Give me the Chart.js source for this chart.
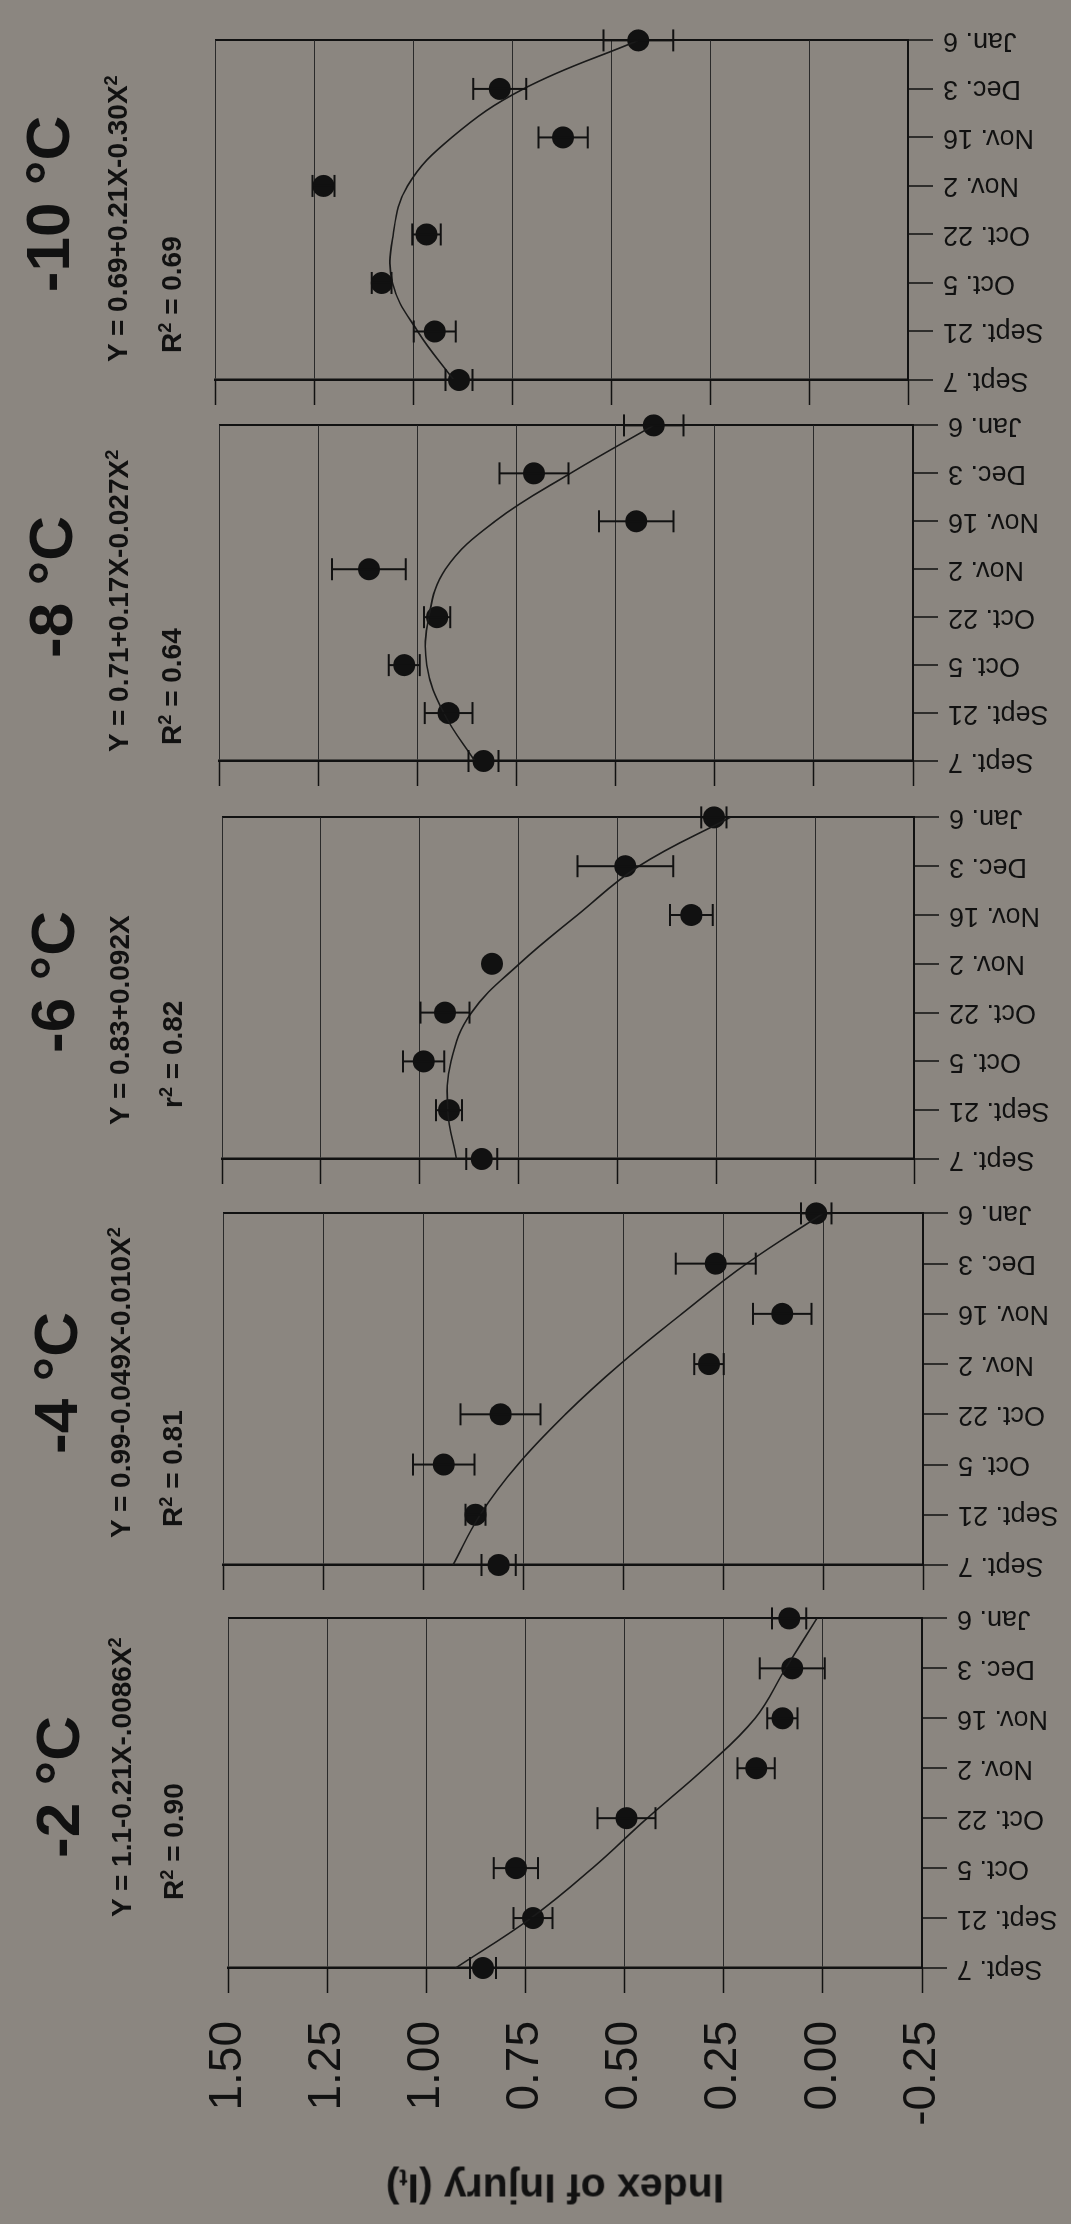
<!DOCTYPE html>
<html><head><meta charset="utf-8">
<script src="https://cdn.jsdelivr.net/npm/chart.js@4.4.0/dist/chart.umd.min.js"></script>
<style>
html,body{margin:0;padding:0;width:1071px;height:2224px;overflow:hidden;background:#8b8680;}
#stage{position:absolute;left:0;top:0;width:2224px;height:1071px;transform-origin:0 0;transform:translateY(2224px) rotate(-90deg);font-family:"Liberation Sans",Arial,sans-serif;color:#111;}
#stage canvas{position:absolute;top:0;}
.t{position:absolute;white-space:nowrap;line-height:1;}
.t sup{font-size:0.65em;line-height:0;vertical-align:0.55em;}
.t sub{font-size:0.6em;line-height:0;vertical-align:-0.2em;}
</style></head><body><div id="stage"></div>
<script>
// ---------- data ----------
const dates = ["Sept. 7","Sept. 21","Oct. 5","Oct. 22","Nov. 2","Nov. 16","Dec. 3","Jan. 6"];
const yTickValues = [-0.25, 0, 0.25, 0.5, 0.75, 1.0, 1.25, 1.5];
const yTickLabels = ["-0.25","0.00","0.25","0.50","0.75","1.00","1.25","1.50"];
const panelTitles = ["-2 °C","-4 °C","-6 °C","-8 °C","-10 °C"];
const equations = ["Y = 1.1-0.21X-.0086X<sup>2</sup>","Y = 0.99-0.049X-0.010X<sup>2</sup>","Y = 0.83+0.092X","Y = 0.71+0.17X-0.027X<sup>2</sup>","Y = 0.69+0.21X-0.30X<sup>2</sup>"];
const fitStats = ["R<sup>2</sup> = 0.90","R<sup>2</sup> = 0.81","r<sup>2</sup> = 0.82","R<sup>2</sup> = 0.64","R<sup>2</sup> = 0.69"];
const yAxisTitle = "Index of Injury (I<sub>t</sub>)";

const injuryM2  = [0.857, 0.731, 0.774, 0.495, 0.168, 0.102, 0.077, 0.085];
const errorM2   = [0.033, 0.049, 0.056, 0.073, 0.047, 0.038, 0.082, 0.043];
const fitM2     = [0.926, 0.736, 0.581, 0.443, 0.298, 0.171, 0.094, 0.015];

const injuryM4  = [0.811, 0.869, 0.948, 0.806, 0.285, 0.102, 0.268, 0.017];
const errorM4   = [0.043, 0.025, 0.077, 0.100, 0.037, 0.073, 0.100, 0.038];
const fitM4     = [0.925, 0.857, 0.763, 0.644, 0.507, 0.353, 0.191, 0.000];

const injuryM6  = [0.843, 0.926, 0.990, 0.936, 0.817, 0.313, 0.480, 0.256];
const errorM6   = [0.039, 0.033, 0.052, 0.062, 0.000, 0.054, 0.121, 0.032];
const fitM6     = [0.907, 0.929, 0.921, 0.869, 0.748, 0.601, 0.446, 0.215];

const injuryM8  = [0.833, 0.921, 1.033, 0.950, 1.122, 0.448, 0.706, 0.404];
const errorM8   = [0.038, 0.060, 0.039, 0.033, 0.093, 0.094, 0.087, 0.075];
const fitM8     = [0.855, 0.933, 0.976, 0.971, 0.929, 0.804, 0.614, 0.404];

const injuryM10 = [0.884, 0.945, 1.079, 0.966, 1.226, 0.621, 0.781, 0.431];
const errorM10  = [0.034, 0.053, 0.025, 0.036, 0.028, 0.062, 0.067, 0.088];
const fitM10    = [0.897, 0.988, 1.052, 1.050, 1.014, 0.902, 0.721, 0.431];

const seriesMeans = [injuryM2, injuryM4, injuryM6, injuryM8, injuryM10];
const seriesErrors = [errorM2, errorM4, errorM6, errorM8, errorM10];
const seriesFits = [fitM2, fitM4, fitM6, fitM8, fitM10];

// ---------- layout (unrotated figure coordinates, 2224 x 1071) ----------
const W = 2224, H = 1071;
const FONT = '"Liberation Sans", Arial, sans-serif';
const panelLeft   = [256, 659, 1065, 1463, 1844];
const panelRight  = [618, 1023, 1419, 1811, 2196];
const panelTop    = [228, 223, 222, 219, 215];
const panelBottom = [922, 923, 914, 913, 908];
const titleCapY   = [57, 55, 52, 50, 47];
const eqLeft      = [307, 686, 1099, 1472, 1862];
const statLeft    = [324, 697, 1116, 1479, 1871];
const eqCapY      = [122, 121, 120, 119, 118];
const statCapY    = [174, 173, 173, 172, 172];

Chart.defaults.font.family = FONT;
Chart.defaults.color = '#111';

const stage = document.getElementById('stage');

const errorBars = {
  id: 'errorBars',
  afterDatasetsDraw(chart, args, opts) {
    const {ctx, scales} = chart;
    const xs = scales.x, ys = scales.y;
    const means = chart.data.datasets[1].data;
    ctx.save();
    ctx.strokeStyle = '#111';
    ctx.lineWidth = 2;
    means.forEach((m, i) => {
      const e = opts.errors[i];
      if (!e) return;
      const px = xs.getPixelForValue(i);
      const a = ys.getPixelForValue(m + e), b = ys.getPixelForValue(m - e);
      ctx.beginPath();
      ctx.moveTo(px, a); ctx.lineTo(px, b);
      ctx.moveTo(px - opts.cap, a); ctx.lineTo(px + opts.cap, a);
      ctx.moveTo(px - opts.cap, b); ctx.lineTo(px + opts.cap, b);
      ctx.stroke();
    });
    ctx.restore();
  }
};

function addText(html, left, capY, size, bold, center) {
  const d = document.createElement('div');
  d.className = 't';
  d.innerHTML = html;
  d.style.fontSize = size + 'px';
  d.style.fontWeight = bold ? 'bold' : 'normal';
  d.style.left = left + 'px';
  d.style.top = (capY - 0.49 * size) + 'px';
  if (center) d.style.transform = 'translateX(-50%)';
  stage.appendChild(d);
}

for (let p = 0; p < 5; p++) {
  const first = p === 0;
  const yAxisW = first ? panelLeft[0] : 40;
  const rightPad = 30;
  const cLeft = panelLeft[p] - yAxisW;
  const cWidth = panelRight[p] + rightPad - cLeft;
  const cv = document.createElement('canvas');
  cv.width = cWidth; cv.height = H;
  cv.style.left = cLeft + 'px';
  cv.style.width = cWidth + 'px'; cv.style.height = H + 'px';
  stage.appendChild(cv);
  const last = dates.length - 1;
  const xAxisH = H - panelBottom[p];

  new Chart(cv, {
    type: 'line',
    data: {
      labels: dates,
      datasets: [
        { label: 'fit', data: seriesFits[p], borderColor: '#1a1a1a', borderWidth: 1.6,
          pointRadius: 0, tension: 0.4, fill: false, clip: false },
        { label: 'mean', data: seriesMeans[p], showLine: false, pointRadius: 11, pointHoverRadius: 11,
          pointBackgroundColor: '#111', pointBorderColor: '#111', pointBorderWidth: 0, clip: false }
      ]
    },
    options: {
      responsive: false, animation: false, devicePixelRatio: 1,
      events: [],
      layout: { padding: { top: panelTop[p], right: rightPad, left: 0, bottom: 0 } },
      plugins: {
        legend: { display: false }, tooltip: { enabled: false }, title: { display: false },
        errorBars: { errors: seriesErrors[p], cap: 11 }
      },
      scales: {
        x: {
          type: 'category', offset: false,
          grid: {
            color: c => c.index === last ? '#111' : 'rgba(0,0,0,0)',
            lineWidth: 2, tickColor: '#111', tickLength: 25, tickWidth: 1.5
          },
          border: { color: '#111', width: 2 },
          ticks: { autoSkip: false, minRotation: 90, maxRotation: 90, padding: 10, color: '#111',
                   font: { family: FONT, size: 27 } },
          afterFit: s => { s.height = xAxisH; }
        },
        y: {
          min: -0.25, max: 1.5,
          afterBuildTicks: s => { s.ticks = yTickValues.map(v => ({ value: v })); },
          grid: { color: '#2a2a2a', lineWidth: 1, tickColor: '#111', tickLength: 25, tickWidth: 1.5 },
          border: { color: '#111', width: 2.5 },
          ticks: { display: first, padding: 28, color: '#111', font: { family: FONT, size: 46 },
                   callback: (v, i) => yTickLabels[i] },
          afterFit: s => { s.width = yAxisW; }
        }
      }
    },
    plugins: [errorBars]
  });

  const cx = (panelLeft[p] + panelRight[p]) / 2;
  addText(panelTitles[p], cx, titleCapY[p], 62, true, true);
  addText(equations[p], eqLeft[p], eqCapY[p], 28, true, false);
  addText(fitStats[p], statLeft[p], statCapY[p], 28, true, false);
}

// y axis title, rotated to read upward
(function(){
  const d = document.createElement('div');
  d.className = 't';
  d.innerHTML = yAxisTitle;
  d.style.fontSize = '41px';
  d.style.fontWeight = 'bold';
  d.style.left = '36px';
  d.style.top = '555px';
  d.style.transform = 'translate(-50%,-50%) rotate(-90deg)';
  stage.appendChild(d);
})();
</script>
</body></html>
